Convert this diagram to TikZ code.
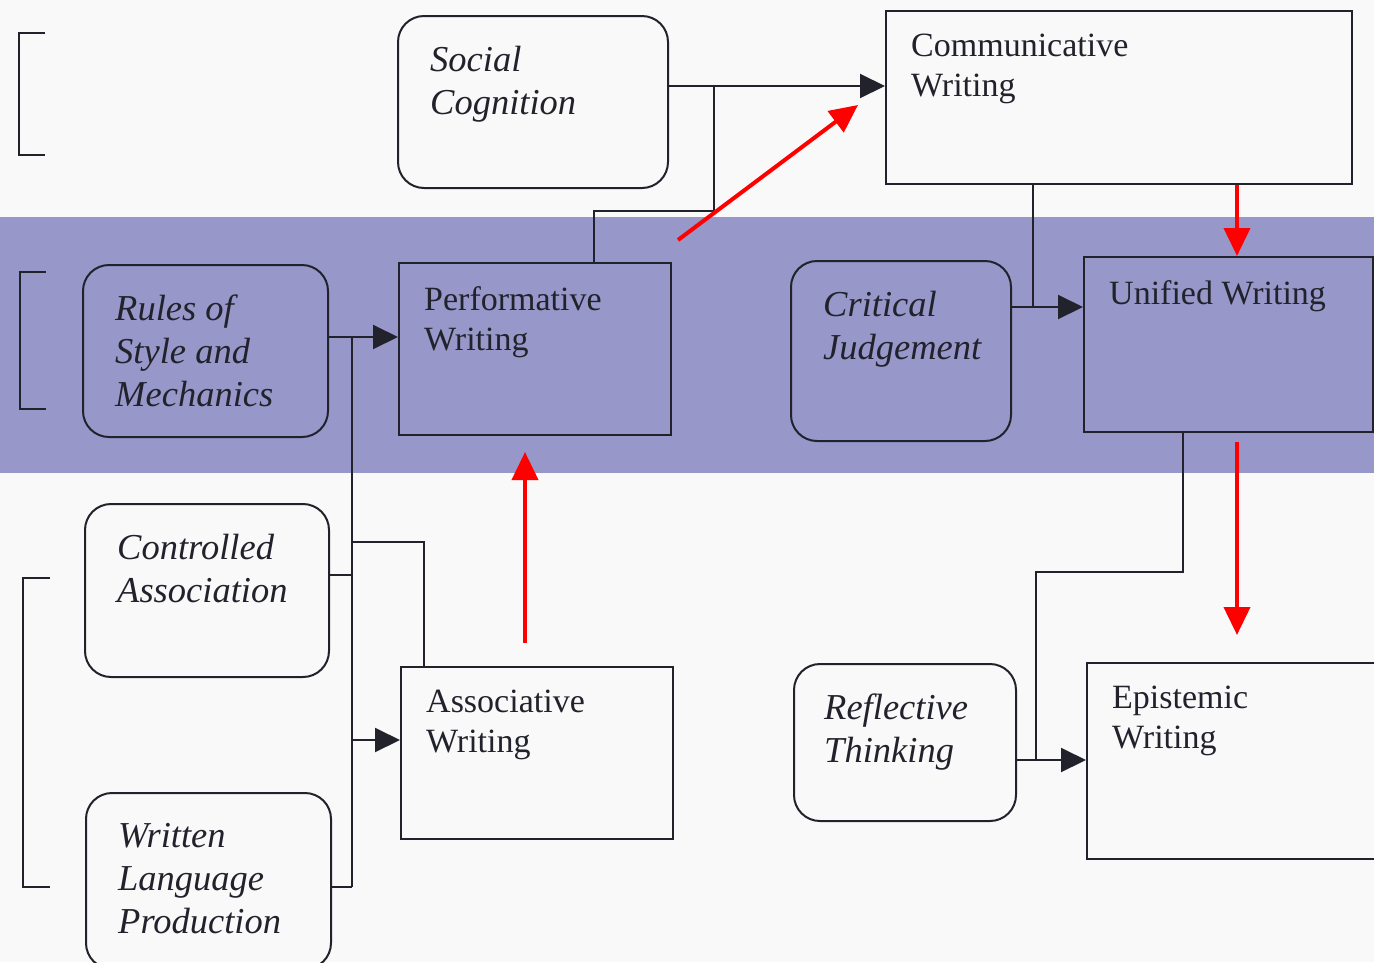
\documentclass[tikz,border=0pt]{standalone}
\usepackage{fontspec}
\setmainfont{Liberation Serif}
\usetikzlibrary{positioning,arrows.meta}
\definecolor{ink}{RGB}{34,34,44}
\definecolor{band}{RGB}{151,151,202}
\definecolor{paper}{RGB}{249,249,249}
\tikzset{
  soft/.style={draw=ink, line width=2pt, rounded corners=26pt, anchor=north west, inner sep=0pt},
  hard/.style={draw=ink, line width=2pt, anchor=north west, inner sep=0pt},
  itxt/.style={anchor=north west, inner sep=0pt, align=left, xshift=33pt, yshift=-31pt,
    text=ink, font=\fontsize{36.5}{43}\selectfont\itshape},
  rtxt/.style={anchor=north west, inner sep=0pt, align=left, xshift=26pt, yshift=-24pt,
    text=ink, font=\fontsize{34}{40}\selectfont},
  wire/.style={draw=ink, line width=2pt},
  link/.style={wire, -{Triangle[length=25pt, width=24pt]}},
  hint/.style={draw=red, line width=4pt, -{Triangle[length=28pt, width=26pt]}}
}

\begin{document}
\begin{tikzpicture}[x=1pt, y=1pt]
		\useasboundingbox (0,0) rectangle (1374,-962);
		\clip (0,0) rectangle (1374,-962);
		\fill [paper] (0,0) rectangle (1374,-962);
		\fill [band] (0,-217) rectangle (1374,-473);
		% brackets on the left
		\draw [wire] (45,-33) -- (19,-33) -- (19,-155) -- (45,-155);
		\draw [wire] (46,-272) -- (20,-272) -- (20,-409) -- (46,-409);
		\draw [wire] (50,-578) -- (23,-578) -- (23,-887) -- (50,-887);
		% boxes
		\node [soft, minimum width=270, minimum height=172] (social) at (397,-15) {};
		\node [itxt] (social-t) at (social.north west) {Social\\Cognition};
		\node [hard, minimum width=466, minimum height=173] (comm) at (885,-10) {};
		\node [rtxt] (comm-t) at (comm.north west) {Communicative\\Writing};
		\node [soft, minimum width=245, minimum height=172] (rules) at (82,-264) {};
		\node [itxt] (rules-t) at (rules.north west) {Rules of\\Style and\\Mechanics};
		\node [hard, minimum width=272, minimum height=172] (perf) at (398,-262) {};
		\node [rtxt] (perf-t) at (perf.north west) {Performative\\Writing};
		\node [soft, minimum width=220, minimum height=180] (crit) at (790,-260) {};
		\node [itxt] (crit-t) at (crit.north west) {Critical\\Judgement};
		\node [hard, minimum width=289, minimum height=175] (unif) at (1083,-256) {};
		\node [rtxt] (unif-t) at (unif.north west) {Unified Writing};
		\node [soft, minimum width=244, minimum height=173] (contr) at (84,-503) {};
		\node [itxt] (contr-t) at (contr.north west) {Controlled\\Association};
		\node [hard, minimum width=272, minimum height=172] (assoc) at (400,-666) {};
		\node [rtxt] (assoc-t) at (assoc.north west) {Associative\\Writing};
		\node [soft, minimum width=245, minimum height=176] (written) at (85,-792) {};
		\node [itxt] (written-t) at (written.north west) {Written\\Language\\Production};
		\node [soft, minimum width=222, minimum height=157] (refl) at (793,-663) {};
		\node [itxt, xshift=-2pt] (refl-t) at (refl.north west) {Reflective\\Thinking};
		\node [hard, minimum width=300, minimum height=196] (epist) at (1086,-662) {};
		\node [rtxt] (epist-t) at (epist.north west) {Epistemic\\Writing};
		% junctions
		\coordinate (up) at (714,-86);
		\coordinate (perfup) at (594,-211);
		\coordinate (bus) at (352,-337);
		\coordinate (busend) at (352,-887);
		\coordinate (tap) at (424,-542);
		\coordinate (toassoc) at (352,-740);
		\coordinate (judge) at (1033,-307);
		\coordinate (drop) at (1183,-572);
		\coordinate (reflect) at (1036,-760);
		% connectors
		\draw [link] (social.east |- up) -- (comm.west |- up);
		\draw [wire] (perf.north -| perfup) -- (perfup) -| (up);
		\draw [link] (rules.east |- bus) -- (perf.west |- bus);
		\draw [wire] (bus) -- (busend);
		\draw [wire] (contr.east |- 0,-575) -- (352,-575);
		\draw [wire] (written.east |- busend) -- (busend);
		\draw [wire] (tap -| bus) -- (tap) -- (assoc.north -| tap);
		\draw [link] (toassoc) -- (assoc.west |- toassoc);
		\draw [link] (crit.east |- judge) -- (unif.west |- judge);
		\draw [wire] (comm.south -| judge) -- (judge);
		\draw [wire] (unif.south -| drop) -- (drop) -| (reflect);
		\draw [link] (refl.east |- reflect) -- (epist.west |- reflect);
		% red hints
		\coordinate (r1a) at (678,-240);
		\coordinate (r1b) at (858,-105);
		\coordinate (r2) at (1237,0);
		\coordinate (r4) at (525,0);
		\draw [hint] (r1a) -- (r1b);
		\draw [hint] (comm.south -| r2) -- (unif.north -| r2);
		\draw [hint] ([yshift=-9pt]unif.south -| r2) -- ([yshift=27pt]epist.north -| r2);
		\draw [hint] ([yshift=23pt]assoc.north -| r4) -- ([yshift=-16pt]perf.south -| r4);
\end{tikzpicture}
\end{document}
